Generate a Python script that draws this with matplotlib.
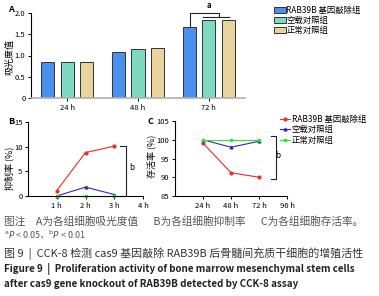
import numpy as np
import matplotlib.pyplot as plt
from matplotlib.patches import Patch
from matplotlib.lines import Line2D

plt.rcParams['font.family'] = ['Noto Sans CJK SC', 'DejaVu Sans']
plt.rcParams['axes.unicode_minus'] = False

# Daten
groups = ["RAB39B 基因敲除组", "空载对照组", "正常对照组"]
bar_colors = ["#4a90ee", "#7dd9bf", "#e8d49c"]
line_colors = ["#e3302c", "#2b2bc4", "#3ddc3d"]

# A: Absorptionswerte
time_a = ["24 h", "48 h", "72 h"]
od_ko = [0.85, 1.08, 1.67]
od_vec = [0.85, 1.16, 1.84]
od_norm = [0.85, 1.18, 1.84]

# B: Hemmrate (%)
hours_b = [1, 2, 3]
inh_ko = [1.1, 8.8, 10.1]
inh_vec = [0.0, 1.8, 0.3]
inh_norm = [0.0, 0.0, 0.0]

# C: Ueberlebensrate (%)
hours_c = [24, 48, 72]
surv_ko = [99.1, 91.2, 90.0]
surv_vec = [100.0, 98.0, 99.6]
surv_norm = [100.0, 100.0, 100.0]

W, H = 379, 296
fig = plt.figure(figsize=(W / 100, H / 100), dpi=100)


def px_axes(l, t, r, b):
    return fig.add_axes([l / W, 1 - b / H, (r - l) / W, (b - t) / H])


def style(ax):
    for s in ["top", "right"]:
        ax.spines[s].set_visible(False)
    ax.spines["left"].set_linewidth(0.8)
    ax.spines["bottom"].set_linewidth(0.8)
    ax.tick_params(labelsize=5.5, length=2.5, width=0.7, pad=1.5)


# Panel A
axA = px_axes(31, 13, 245, 98)
style(axA)
axA.spines["bottom"].set_color("#b0b0b0")
axA.spines["bottom"].set_linewidth(1.2)
x = np.arange(len(time_a))
bw = 0.185
off = 0.275
for i, vals in enumerate([od_ko, od_vec, od_norm]):
    axA.bar(x + (i - 1) * off, vals, width=bw, color=bar_colors[i],
            edgecolor="#333333", linewidth=0.7)
axA.set_xlim(-0.51, 2.51)
axA.set_ylim(0, 2.0)
axA.set_xticks(x)
axA.set_xticklabels(time_a)
axA.set_yticks([0, 0.5, 1.0, 1.5, 2.0])
axA.set_yticklabels(["0", "0.5", "1.0", "1.5", "2.0"])
# Signifikanz
kw = dict(color="#222222", lw=0.8, clip_on=False)
axA.plot([1.73, 1.73, 2.14, 2.14], [1.69, 2.0, 2.0, 1.9], **kw)
axA.plot([1.92, 2.28], [1.9, 1.9], **kw)
axA.text(2.0, 2.06, "a", fontsize=5.5, ha="center", va="bottom", fontweight="bold")
axA.legend([Patch(facecolor=c, edgecolor="#333333", linewidth=0.7) for c in bar_colors],
           groups, loc="upper left", bbox_to_anchor=(274 / W, 1 - 6 / H),
           bbox_transform=fig.transFigure, frameon=False, fontsize=6,
           handlelength=1.4, handleheight=0.7, labelspacing=0.1,
           handletextpad=0.1, borderpad=0, borderaxespad=0)

# Panel B
axB = px_axes(28, 122, 143, 196)
style(axB)
for vals, c, m in zip([inh_ko, inh_vec, inh_norm], line_colors, ["o", "^", "s"]):
    axB.plot(hours_b, vals, color=c, lw=0.8, marker=m, ms=2, clip_on=False)
axB.set_xlim(0, 4)
axB.set_ylim(0, 15)
axB.set_xticks([1, 2, 3, 4])
axB.set_xticklabels(["1 h", "2 h", "3 h", "4 h"])
axB.set_yticks([0, 5, 10, 15])
axB.plot([3.2, 3.4, 3.4, 3.2], [10.2, 10.2, 0.1, 0.1], **kw)
axB.text(3.6, 5.8, "b", fontsize=6, ha="center", va="center")

# Panel C
axC = px_axes(175, 121, 287, 196)
style(axC)
for vals, c, m in zip([surv_ko, surv_vec, surv_norm], line_colors, ["o", "^", "s"]):
    axC.plot(hours_c, vals, color=c, lw=0.8, marker=m, ms=2, clip_on=False)
axC.set_xlim(0, 96)
axC.set_ylim(85, 105)
axC.set_xticks([24, 48, 72, 96])
axC.set_xticklabels(["24 h", "48 h", "72 h", "96 h"])
axC.set_yticks([85, 90, 95, 100, 105])
axC.plot([82, 86.3, 86.3, 82], [100.9, 100.9, 89.6, 89.6], **kw)
axC.text(88.5, 95.8, "b", fontsize=6, ha="center", va="center")
axC.legend([Line2D([], [], color=c, lw=0.8, marker=m, ms=2)
            for c, m in zip(line_colors, ["o", "^", "s"])],
           groups, loc="upper left", bbox_to_anchor=(280 / W, 1 - 115 / H),
           bbox_transform=fig.transFigure, frameon=False, fontsize=6,
           handlelength=1.2, labelspacing=0.15, handletextpad=0.2,
           borderpad=0, borderaxespad=0)

# Beschriftungen
fig.text(8 / W, 1 - 10 / H, "A", fontsize=6.5, fontweight="bold", va="center")
fig.text(8 / W, 1 - 122 / H, "B", fontsize=6.5, fontweight="bold", va="center")
fig.text(147 / W, 1 - 122 / H, "C", fontsize=6.5, fontweight="bold", va="center")
fig.text(10 / W, 1 - 57 / H, "吸光度值", fontsize=6.5, rotation=90, ha="center", va="center")
fig.text(9 / W, 1 - 168 / H, "抑制率 (%)", fontsize=6.5, rotation=90, ha="center", va="center")
fig.text(152 / W, 1 - 156 / H, "存活率 (%)", fontsize=6.5, rotation=90, ha="center", va="center")

fig.text(4 / W, 1 - 221 / H, "图注　A为各组细胞吸光度值　  B为各组细胞抑制率　  C为各组细胞存活率。",
         fontsize=7.7, color="#555555", va="center")
fig.text(4 / W, 1 - 235 / H, r"$^{\rm a}$$P$ < 0.05，$^{\rm b}$$P$ < 0.01",
         fontsize=6.4, color="#555555", va="center")
fig.text(4 / W, 1 - 254 / H, "图 9  |  CCK-8 检测 cas9 基因敲除 RAB39B 后骨髓间充质干细胞的增殖活性",
         fontsize=7.9, color="#333333", va="center")
fig.text(4 / W, 1 - 269 / H, "Figure 9  |  Proliferation activity of bone marrow mesenchymal stem cells",
         fontsize=7.1, color="#222222", fontweight="bold", va="center")
fig.text(4 / W, 1 - 284 / H, "after cas9 gene knockout of RAB39B detected by CCK-8 assay",
         fontsize=7.1, color="#222222", fontweight="bold", va="center")

fig.savefig("out.png", dpi=100)
